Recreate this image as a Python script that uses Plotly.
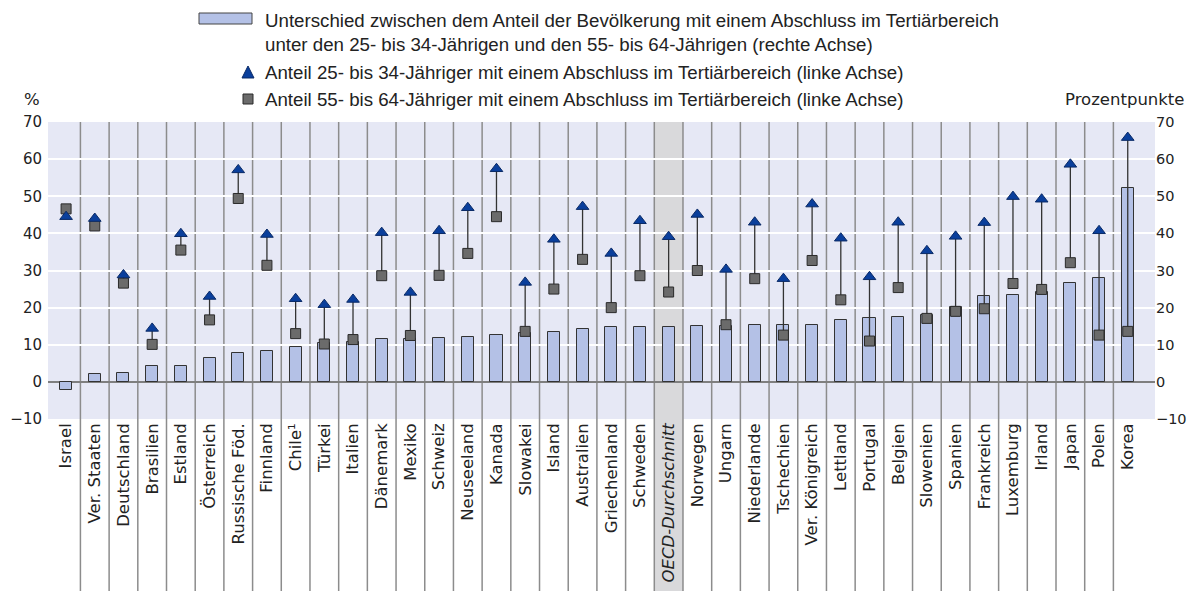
import plotly.graph_objects as go

countries = ["Israel", "Ver. Staaten", "Deutschland", "Brasilien", "Estland", "Österreich",
             "Russische Föd.", "Finnland", "Chile¹", "Türkei", "Italien", "Dänemark", "Mexiko",
             "Schweiz", "Neuseeland", "Kanada", "Slowakei", "Island", "Australien",
             "Griechenland", "Schweden", "<i>OECD-Durchschnitt</i>", "Norwegen", "Ungarn",
             "Niederlande", "Tschechien", "Ver. Königreich", "Lettland", "Portugal", "Belgien",
             "Slowenien", "Spanien", "Frankreich", "Luxemburg", "Irland", "Japan", "Polen", "Korea"]

young = [44.5, 44.0, 28.8, 14.4, 39.9, 23.0, 57.1, 39.7, 22.4, 20.8, 22.2, 40.2, 24.1,
         40.7, 46.9, 57.4, 26.8, 38.4, 47.2, 34.6, 43.4, 39.1, 45.1, 30.3,
         43.0, 27.8, 47.9, 38.7, 28.3, 43.0, 35.3, 39.2, 42.9, 49.9, 49.2, 58.6, 40.7, 65.8]

old = [46.6, 42.0, 26.6, 10.1, 35.5, 16.7, 49.4, 31.4, 13.0, 10.2, 11.4, 28.6, 12.5,
       28.7, 34.6, 44.5, 13.6, 25.0, 33.0, 20.0, 28.6, 24.2, 30.0, 15.4,
       27.8, 12.6, 32.7, 22.1, 11.0, 25.4, 17.1, 19.0, 19.7, 26.5, 24.9, 32.1, 12.6, 13.6]

diff = [-2.1, 2.1, 2.3, 4.2, 4.2, 6.3, 7.7, 8.3, 9.3, 10.4, 10.7, 11.5, 11.5,
        11.8, 12.2, 12.7, 13.1, 13.4, 14.2, 14.7, 14.8, 14.9, 15.1, 15.1,
        15.2, 15.2, 15.2, 16.6, 17.1, 17.6, 18.1, 20.2, 23.2, 23.4, 24.3, 26.6, 28.1, 52.3]

tick_vals = [-10, 0, 10, 20, 30, 40, 50, 60, 70]
oecd_name = "<i>OECD-Durchschnitt</i>"

legend_bar = ["Unterschied zwischen dem Anteil der Bevölkerung mit einem Abschluss im Tertiärbereich",
              "unter den 25- bis 34-Jährigen und den 55- bis 64-Jährigen (rechte Achse)"]
legend_young = "Anteil 25- bis 34-Jähriger mit einem Abschluss im Tertiärbereich (linke Achse)"
legend_old = "Anteil 55- bis 64-Jähriger mit einem Abschluss im Tertiärbereich (linke Achse)"

W, H = 1188, 591
L, R, T, B = 48, 33, 122, 172
PW, PH = W - L - R, H - T - B


def px(x):
    return (x - L) / PW


def py(y):
    return (H - B - y) / PH


xs = list(range(len(countries)))

fig = go.Figure()

fig.add_trace(go.Bar(
    x=xs, y=diff, yaxis="y", width=0.42,
    marker=dict(color="#b4c1e6", line=dict(color="#333333", width=1)),
    showlegend=False, hoverinfo="skip"))

lx, ly = [], []
for i in xs:
    lx += [i, i, None]
    ly += [old[i], young[i], None]
fig.add_trace(go.Scatter(x=lx, y=ly, yaxis="y2", mode="lines",
                         line=dict(color="#333333", width=1.3),
                         showlegend=False, hoverinfo="skip"))
fig.add_trace(go.Scatter(x=xs, y=old, yaxis="y2", mode="markers",
                         marker=dict(symbol="square", size=10, color="#6b6b6b",
                                     line=dict(color="#2a2a2a", width=1)),
                         showlegend=False))
fig.add_trace(go.Scatter(x=xs, y=young, yaxis="y2", mode="markers",
                         marker=dict(symbol="triangle-up", size=11, color="#0a3f9c",
                                     line=dict(color="#0a2a66", width=1)),
                         showlegend=False))

shapes = []
oi = countries.index(oecd_name)
ybot = -B / PH
shapes.append(dict(type="rect", xref="x", yref="paper", x0=oi - 0.5, x1=oi + 0.5,
                   y0=ybot, y1=1.0, fillcolor="#d9d9db", line=dict(width=0), layer="between"))
for i in xs[:-1]:
    shapes.append(dict(type="line", xref="x", yref="paper", x0=i + 0.5, x1=i + 0.5,
                       y0=ybot, y1=1.0, line=dict(color="#8c8c8c", width=1.5), layer="between"))

# custom legend swatches
shapes.append(dict(type="rect", xref="paper", yref="paper",
                   x0=px(199), x1=px(252), y0=py(24), y1=py(13),
                   fillcolor="#b4c1e6", line=dict(color="#444444", width=1)))
tri = "M {:.5f},{:.5f} L {:.5f},{:.5f} L {:.5f},{:.5f} Z".format(
    px(242), py(78), px(254), py(78), px(248), py(66))
shapes.append(dict(type="path", xref="paper", yref="paper", path=tri,
                   fillcolor="#0a3f9c", line=dict(color="#0a2a66", width=1)))
shapes.append(dict(type="rect", xref="paper", yref="paper",
                   x0=px(243), x1=px(253), y0=py(104), y1=py(94),
                   fillcolor="#6b6b6b", line=dict(color="#2a2a2a", width=1)))

lfont = dict(family="Liberation Sans", size=18.7, color="#222222")
annos = []
for txt, yy in [(legend_bar[0], 20), (legend_bar[1], 44), (legend_young, 72), (legend_old, 99)]:
    annos.append(dict(text=txt, xref="paper", yref="paper", x=px(263), y=py(yy),
                      xanchor="left", yanchor="middle", showarrow=False, font=lfont))
tfont = dict(family="DejaVu Sans", size=16.5, color="#222222")
yfont = dict(family="DejaVu Sans", size=15, color="#222222")
ryfont = dict(family="DejaVu Sans", size=14.5, color="#222222")
annos.append(dict(text="%", xref="paper", yref="paper", x=px(42), y=py(99),
                  xanchor="right", yanchor="middle", showarrow=False, font=tfont))
annos.append(dict(text="Prozentpunkte", xref="paper", yref="paper", x=px(1186), y=py(99),
                  xanchor="right", yanchor="middle", showarrow=False, font=tfont))

fig.update_layout(
    width=W, height=H,
    margin=dict(l=L, r=R, t=T, b=B, pad=0),
    paper_bgcolor="white", plot_bgcolor="#e6e8f5",
    bargap=0, showlegend=False,
    font=tfont,
    shapes=shapes, annotations=annos,
    xaxis=dict(range=[-0.63, 37.95], tickmode="array", tickvals=xs, ticktext=countries,
               tickangle=-90, showgrid=False, zeroline=False, showline=False, ticks="",
               tickfont=tfont, fixedrange=True, automargin=False),
    yaxis=dict(side="right", range=[-10, 70], tickvals=tick_vals, showgrid=True,
               gridcolor="white", gridwidth=2, zeroline=True, zerolinecolor="#7f7f7f",
               zerolinewidth=2, tickfont=ryfont, ticks="", ticklabelstandoff=0,
               showline=False, automargin=False),
    yaxis2=dict(side="left", overlaying="y", range=[-10, 70], tickvals=tick_vals,
                showgrid=False, zeroline=False, tickfont=yfont, ticks="", showline=False,
                ticklabelstandoff=5, automargin=False),
)

fig.write_html("out.html", post_script="document.body.style.margin='0';",
               config={"displayModeBar": False})
